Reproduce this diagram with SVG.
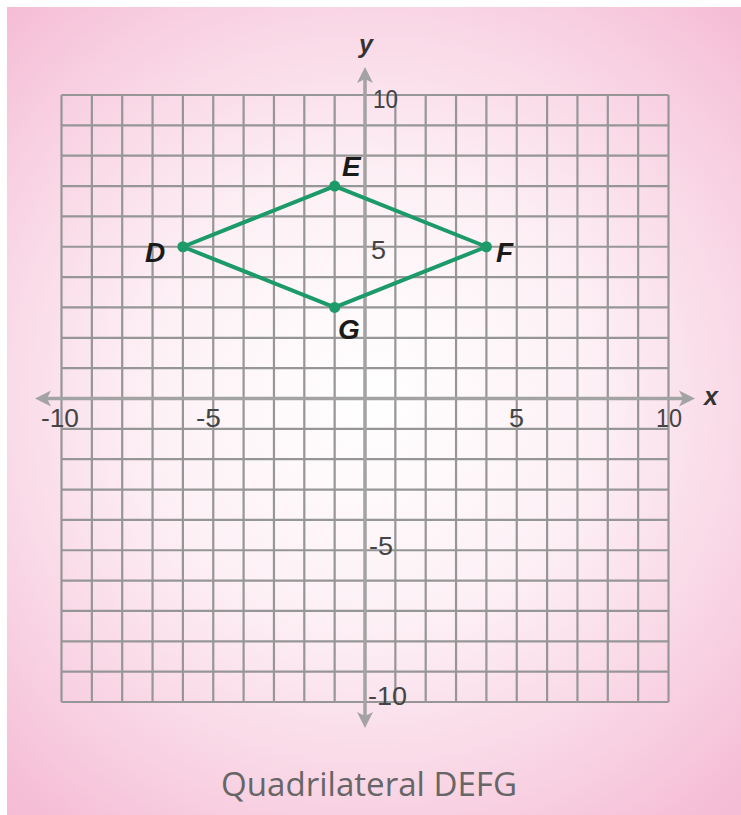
<svg xmlns="http://www.w3.org/2000/svg" width="741" height="815" viewBox="0 0 741 815">
<defs>
<radialGradient id="bg" cx="370" cy="400" r="540" gradientUnits="userSpaceOnUse">
<stop offset="0" stop-color="#ffffff"/>
<stop offset="0.4" stop-color="#fdf1f6"/>
<stop offset="0.72" stop-color="#f9d6e5"/>
<stop offset="1" stop-color="#f5bcd5"/>
</radialGradient>
<style>
.grid{stroke:#969696;stroke-width:2.2;fill:none}
.axis{stroke:#a3a3a3;stroke-width:3.5;fill:none}
.arr{fill:#a3a3a3}
.tick{font-family:"Liberation Sans",Arial,sans-serif;font-size:25px;fill:#444444}
.pt{font-family:"Liberation Sans",Arial,sans-serif;font-size:28px;font-weight:bold;font-style:italic;fill:#1a1a1a}
.ax{font-family:"Liberation Sans",Arial,sans-serif;font-size:25px;font-weight:bold;font-style:italic;fill:#333333}
.shape{stroke:#1c9a6a;stroke-width:4;fill:none;stroke-linejoin:round}
.dot{fill:#1c9a6a}
</style>
</defs>
<rect x="0" y="0" width="741" height="815" fill="#ffffff"/>
<rect x="7" y="7" width="734" height="808" fill="url(#bg)"/>
<g id="grid" class="grid">
<path d="M61.5 95V702M91.85 95V702M122.2 95V702M152.55 95V702M182.9 95V702M213.25 95V702M243.6 95V702M273.95 95V702M304.3 95V702M334.65 95V702M395.35 95V702M425.7 95V702M456.05 95V702M486.4 95V702M516.75 95V702M547.1 95V702M577.45 95V702M607.8 95V702M638.15 95V702M668.5 95V702"/>
<path d="M61.5 95H668.5M61.5 125.35H668.5M61.5 155.7H668.5M61.5 186.05H668.5M61.5 216.4H668.5M61.5 246.75H668.5M61.5 277.1H668.5M61.5 307.45H668.5M61.5 337.8H668.5M61.5 368.15H668.5M61.5 428.85H668.5M61.5 459.2H668.5M61.5 489.55H668.5M61.5 519.9H668.5M61.5 550.25H668.5M61.5 580.6H668.5M61.5 610.95H668.5M61.5 641.3H668.5M61.5 671.65H668.5M61.5 702H668.5"/>
</g>
<g id="axes">
<path class="axis" d="M42 398.5H688M365 74V721"/>
<polygon class="arr" points="35,398.5 51,390.5 47,398.5 51,406.5"/>
<polygon class="arr" points="695,398.5 679,390.5 683,398.5 679,406.5"/>
<polygon class="arr" points="365,67 357,83 365,79 373,83"/>
<polygon class="arr" points="365,728 357,712 365,716 373,712"/>
<text class="ax" x="704" y="405">x</text>
<text class="ax" x="359" y="53">y</text>
</g>
<g id="ticks">
<text class="tick" x="41" y="427" textLength="38" lengthAdjust="spacingAndGlyphs">-10</text>
<text class="tick" x="196" y="427" textLength="25" lengthAdjust="spacingAndGlyphs">-5</text>
<text class="tick" x="509" y="427" textLength="15" lengthAdjust="spacingAndGlyphs">5</text>
<text class="tick" x="656" y="427" textLength="26" lengthAdjust="spacingAndGlyphs">10</text>
<text class="tick" x="373" y="108" textLength="25" lengthAdjust="spacingAndGlyphs">10</text>
<text class="tick" x="371" y="259" textLength="15" lengthAdjust="spacingAndGlyphs">5</text>
<text class="tick" x="369" y="555" textLength="24" lengthAdjust="spacingAndGlyphs">-5</text>
<text class="tick" x="368" y="705" textLength="39" lengthAdjust="spacingAndGlyphs">-10</text>
</g>
<g id="connectors">
<polygon class="shape" points="182.9,246.75 334.65,186.05 486.4,246.75 334.65,307.45"/>
</g>
<g id="D"><circle class="dot" cx="182.9" cy="246.75" r="5.5"/><text class="pt" x="145" y="262">D</text></g>
<g id="E"><circle class="dot" cx="334.65" cy="186.05" r="5.5"/><text class="pt" x="342" y="176">E</text></g>
<g id="F"><circle class="dot" cx="486.4" cy="246.75" r="5.5"/><text class="pt" x="496" y="262">F</text></g>
<g id="G"><circle class="dot" cx="334.65" cy="307.45" r="5.5"/><text class="pt" x="338" y="339">G</text></g>
<text x="369" y="796" text-anchor="middle" font-family="'Open Sans','Liberation Sans',sans-serif" font-size="32" fill="#666666" textLength="296" lengthAdjust="spacingAndGlyphs">Quadrilateral DEFG</text>
</svg>
